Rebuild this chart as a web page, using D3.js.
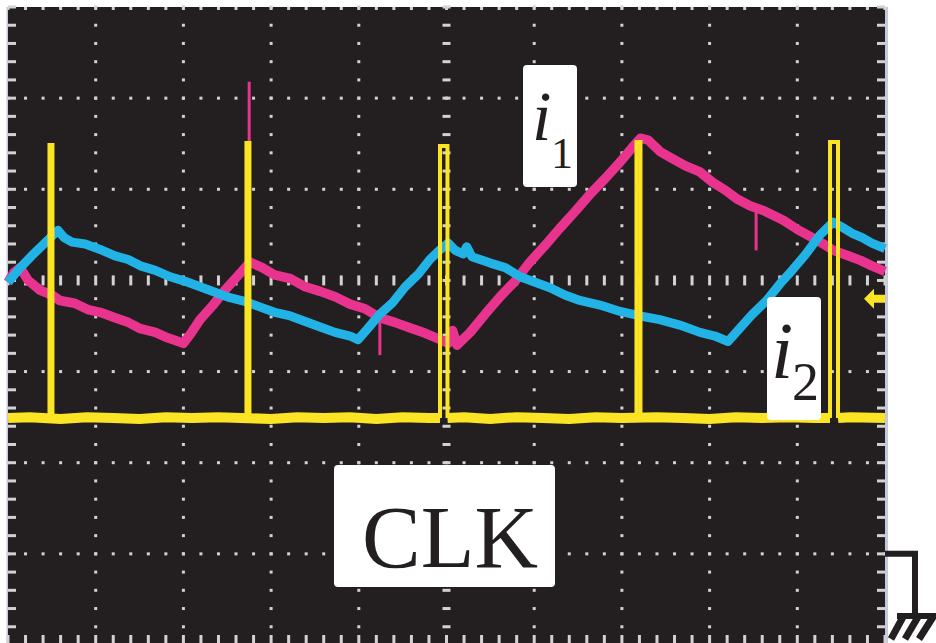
<!DOCTYPE html>
<html>
<head>
<meta charset="utf-8">
<script src="https://cdn.jsdelivr.net/npm/d3@7"></script>
<style>
  html, body { margin: 0; padding: 0; background: #ffffff; }
  svg { display: block; }
</style>
</head>
<body>
<svg id="scope" width="936" height="643"></svg>
<script>
// Screen spans 10 horizontal divisions; vertically +3 .. -4 divisions around the centre axis
const timeDomain = [0, 10];
const ampDomain = [3, -4];

// i1 inductor current (magenta): [time div, amplitude div]
const i1Trace = [
  [0.00,-0.02],[0.07,0.09],[0.14,0.14],[0.23,0.00],[0.37,-0.11],[0.50,-0.16],[0.59,-0.22],
  [0.76,-0.25],[0.91,-0.32],[1.05,-0.35],[1.22,-0.41],[1.37,-0.46],[1.51,-0.53],[1.68,-0.57],
  [1.82,-0.63],[2.00,-0.69],[2.08,-0.59],[2.19,-0.43],[2.33,-0.28],[2.47,-0.11],[2.62,0.05],
  [2.76,0.20],[2.90,0.14],[3.04,0.06],[3.22,0.02],[3.39,-0.07],[3.56,-0.12],[3.73,-0.18],
  [3.90,-0.26],[4.07,-0.31],[4.24,-0.41],[4.41,-0.46],[4.58,-0.52],[4.76,-0.58],[4.93,-0.65],
  [5.02,-0.69],[5.07,-0.55],[5.12,-0.71],[5.27,-0.57],[5.44,-0.37],[5.61,-0.18],[5.78,-0.01],
  [5.95,0.20],[6.12,0.38],[6.29,0.57],[6.47,0.76],[6.64,0.95],[6.81,1.12],[6.98,1.30],
  [7.12,1.46],[7.21,1.56],[7.30,1.54],[7.44,1.41],[7.57,1.34],[7.72,1.26],[7.89,1.19],
  [8.03,1.08],[8.18,0.99],[8.32,0.89],[8.46,0.82],[8.63,0.76],[8.84,0.66],[9.00,0.56],
  [9.15,0.48],[9.28,0.41],[9.41,0.33],[9.58,0.27],[9.72,0.22],[9.85,0.16],[10.00,0.10]
];

// i2 inductor current (cyan)
const i2Trace = [
  [0.00,-0.02],[0.14,0.14],[0.27,0.27],[0.42,0.41],[0.57,0.55],[0.64,0.47],[0.73,0.42],
  [0.88,0.40],[1.05,0.34],[1.22,0.27],[1.37,0.23],[1.51,0.16],[1.68,0.11],[1.85,0.04],
  [2.02,-0.01],[2.19,-0.07],[2.36,-0.13],[2.53,-0.19],[2.70,-0.23],[2.87,-0.29],[3.04,-0.35],
  [3.22,-0.39],[3.39,-0.45],[3.56,-0.51],[3.73,-0.57],[3.90,-0.61],[3.99,-0.65],[4.10,-0.53],
  [4.24,-0.37],[4.38,-0.25],[4.53,-0.07],[4.68,0.07],[4.81,0.23],[4.93,0.34],[5.02,0.41],
  [5.10,0.33],[5.19,0.29],[5.23,0.37],[5.29,0.26],[5.50,0.19],[5.67,0.14],[5.84,0.04],
  [6.01,-0.02],[6.18,-0.08],[6.35,-0.16],[6.52,-0.22],[6.75,-0.27],[6.98,-0.34],[7.21,-0.39],
  [7.43,-0.43],[7.66,-0.49],[7.89,-0.57],[8.06,-0.61],[8.21,-0.67],[8.35,-0.52],[8.48,-0.38],
  [8.65,-0.22],[8.80,-0.04],[8.94,0.11],[9.09,0.28],[9.26,0.50],[9.41,0.64],[9.52,0.58],
  [9.62,0.52],[9.74,0.47],[9.85,0.41],[10.00,0.35]
];

// short switching glitches on i1: [time, from, to]
const i1Glitches = [[2.75, 0.20, 2.18], [4.24, -0.41, -0.82], [8.53, 0.77, 0.33]];

// clock pulses: [rise time, fall time, high level]
const clkPulses = [
  [0.473, 0.507, 1.485],
  [2.719, 2.753, 1.507],
  [4.926, 5.011, 1.475],
  [7.166, 7.212, 1.519],
  [9.373, 9.464, 1.519]
];
const clkLow = -1.51;
// clock low level with its noise
const clkBaseline = [
  [0.00,-1.51],[0.25,-1.50],[0.60,-1.52],[0.90,-1.50],[1.20,-1.51],[1.50,-1.52],[1.80,-1.50],
  [2.10,-1.51],[2.40,-1.50],[3.00,-1.52],[3.30,-1.50],[3.60,-1.51],[3.90,-1.50],[4.20,-1.52],
  [4.50,-1.50],[4.80,-1.51],[5.20,-1.50],[5.50,-1.52],[5.80,-1.50],[6.10,-1.51],[6.40,-1.52],
  [6.70,-1.50],[7.00,-1.51],[7.40,-1.50],[7.70,-1.51],[8.00,-1.52],[8.30,-1.50],[8.60,-1.51],
  [8.90,-1.50],[9.20,-1.51],[9.60,-1.50],[10.00,-1.51]
];
const triggerLevel = -0.20;

const colors = {
  screen: "#231f20", grid: "#d2d2d2", frame: "#c6c9dc",
  i1: "#e8348e", i2: "#22b3e6", clk: "#fbe424"
};

const svg = d3.select("#scope");
const x = d3.scaleLinear().domain(timeDomain).range([8, 885]);
const y = d3.scaleLinear().domain(ampDomain).range([7, 645]);

// screen
svg.append("rect").attr("x", x(0)).attr("y", y(3)).attr("width", x(10) - x(0))
  .attr("height", 643 - y(3)).attr("fill", colors.screen);
svg.append("rect").attr("x", x(0) - 1.5).attr("y", y(3)).attr("width", 1.5)
  .attr("height", 643 - y(3)).attr("fill", colors.frame);
svg.append("rect").attr("x", x(10)).attr("y", y(3)).attr("width", 3)
  .attr("height", 643 - y(3)).attr("fill", colors.frame);

// graticule
const g = svg.append("g").attr("fill", colors.grid);
const minorT = d3.range(0, 50.5, 1).map(d => d / 5);
const minorV = d3.range(-20, 15.5, 1).map(d => d / 5);
const majorT = d3.range(1, 10);
const majorV = d3.range(-3, 3);

majorT.filter(t => t !== 5).forEach(t => {
  minorV.filter(v => v !== 0).forEach(v => {
    g.append("rect").attr("x", x(t) - 1.5).attr("y", y(v) - 1.5).attr("width", 3).attr("height", 3);
  });
});
majorV.filter(v => v !== 0).forEach(v => {
  minorT.forEach(t => {
    g.append("rect").attr("x", x(t) - 1.5).attr("y", y(v) - 1.5).attr("width", 3).attr("height", 3);
  });
});
// centre axes and frame ticks
minorT.forEach(t => {
  g.append("rect").attr("x", x(t) - 1.5).attr("y", y(0) - 5).attr("width", 3).attr("height", 10);
  g.append("rect").attr("x", x(t) - 1.5).attr("y", y(-4) - 10).attr("width", 3).attr("height", 10);
  g.append("rect").attr("x", x(t) - 1.5).attr("y", y(3)).attr("width", 3).attr("height", 3);
});
minorV.forEach(v => {
  g.append("rect").attr("x", x(5) - 4).attr("y", y(v) - 1.5).attr("width", 8).attr("height", 3);
  g.append("rect").attr("x", x(0)).attr("y", y(v) - 1.5).attr("width", 8).attr("height", 3);
  g.append("rect").attr("x", x(10) - 8).attr("y", y(v) - 1.5).attr("width", 8).attr("height", 3);
});

const line = d3.line().x(d => x(d[0])).y(d => y(d[1]));

// currents
svg.append("path").datum(i1Trace).attr("d", line)
  .attr("fill", "none").attr("stroke", colors.i1).attr("stroke-width", 9.5).attr("stroke-linejoin", "round");
i1Glitches.forEach(d => {
  svg.append("line").attr("x1", x(d[0])).attr("x2", x(d[0])).attr("y1", y(d[1])).attr("y2", y(d[2]))
    .attr("stroke", colors.i1).attr("stroke-width", 3);
});
svg.append("path").datum(i2Trace).attr("d", line)
  .attr("fill", "none").attr("stroke", colors.i2).attr("stroke-width", 9).attr("stroke-linejoin", "round");

// clock: low level split where a pulse is wide enough to open a gap
const wide = clkPulses.filter(p => p[1] - p[0] > 0.06);
const bounds = [timeDomain[0]].concat(...wide.map(p => [p[0], p[1]]), [timeDomain[1]]);
for (let i = 0; i < bounds.length; i += 2) {
  const a = bounds[i], b = bounds[i + 1];
  const seg = [[a, clkLow]].concat(clkBaseline.filter(p => p[0] > a && p[0] < b), [[b, clkLow]]);
  svg.append("path").datum(seg).attr("d", line)
    .attr("fill", "none").attr("stroke", colors.clk).attr("stroke-width", 10);
}
clkPulses.forEach(p => {
  const d = [[p[0], clkLow], [p[0], p[2]], [p[1], p[2]], [p[1], clkLow]];
  svg.append("path").datum(d).attr("d", line)
    .attr("fill", "none").attr("stroke", colors.clk).attr("stroke-width", 4).attr("stroke-linejoin", "miter");
});

// trigger level marker
const ty = y(triggerLevel), tx = x(10);
svg.append("path")
  .attr("d", `M${tx - 21},${ty} L${tx - 11},${ty - 10} L${tx - 11},${ty - 4} L${tx},${ty - 4} L${tx},${ty + 4} L${tx - 11},${ty + 4} L${tx - 11},${ty + 10} Z`)
  .attr("fill", colors.clk);

// ground reference symbol
const gy = y(-3);
const gnd = svg.append("g").attr("stroke", colors.screen).attr("fill", "none");
gnd.append("path").attr("d", `M${tx},${gy} H915 V616`).attr("stroke-width", 6);
gnd.append("path").attr("d", "M897,616 H936").attr("stroke-width", 6);
[[903, 891], [918, 905], [933, 919]].forEach(s => {
  gnd.append("line").attr("x1", s[0]).attr("y1", 617).attr("x2", s[1]).attr("y2", 639).attr("stroke-width", 7);
});

// labels
const serif = "'Liberation Serif', 'Times New Roman', serif";
function labelBox(bx, by, bw, bh) {
  svg.append("rect").attr("x", bx).attr("y", by).attr("width", bw).attr("height", bh)
    .attr("rx", 4).attr("fill", "#ffffff");
}
labelBox(523, 65, 54, 122);
svg.append("text").attr("x", 532).attr("y", 140).attr("font-family", serif).attr("font-style", "italic")
  .attr("font-size", 70).attr("fill", "#231f20").text("i");
svg.append("text").attr("x", 551).attr("y", 168).attr("font-family", serif)
  .attr("font-size", 44).attr("fill", "#231f20").text("1");

labelBox(767, 297, 54, 123);
svg.append("text").attr("x", 771).attr("y", 378).attr("font-family", serif).attr("font-style", "italic")
  .attr("font-size", 80).attr("fill", "#231f20").text("i");
svg.append("text").attr("x", 792).attr("y", 400).attr("font-family", serif)
  .attr("font-size", 54).attr("fill", "#231f20").text("2");

labelBox(334, 465, 221, 122);
svg.append("text").attr("x", 450).attr("y", 567).attr("text-anchor", "middle").attr("font-family", serif)
  .attr("font-size", 88).attr("fill", "#231f20").text("CLK");
</script>
</body>
</html>
